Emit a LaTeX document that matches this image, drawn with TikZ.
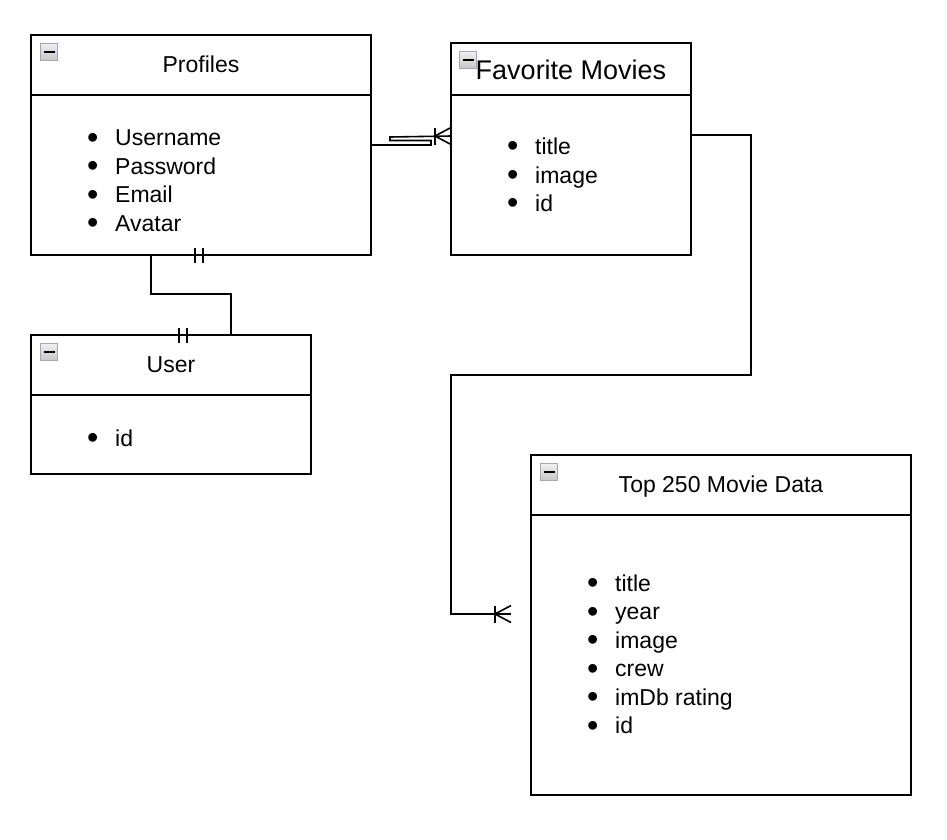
\documentclass[tikz,border=0pt]{standalone}
\usepackage{fontspec}
\setmainfont{Liberation Sans}
\usepackage{tikz}
\usetikzlibrary{positioning}

\tikzset{
    header/.style={rectangle, draw, line width=1.6pt, outer sep=0pt, minimum height=60pt,
        text height=18.6pt, text depth=3.2pt, font=\fontsize{23}{28.5}\selectfont},
    body/.style={rectangle, draw, line width=1.6pt, outer sep=0pt},
    fields/.style={anchor=west, inner sep=0pt, xshift=56pt, font=\fontsize{23}{28.5}\selectfont},
    minus/.style={rectangle, anchor=north west, draw=gray!80!blue!60, line width=1.2pt,
        top color=gray!12, bottom color=gray!45, minimum size=17pt, inner sep=0pt,
        path picture={\draw[line width=2pt, black]
            ([xshift=3pt]path picture bounding box.west) -- ([xshift=-3pt]path picture bounding box.east);}},
    link/.style={line width=1.6pt},
}
\newcommand{\attr}[1]{\makebox[28pt][l]{\smash{\raisebox{-2.2pt}{\scalebox{1.4}{•}}}}#1}
\newcommand{\crowsfoot}[1]{%
    \draw[link] ([xshift=-16pt,yshift=8.5pt]#1) -- ++(0,-17);
    \draw[link] ([yshift=8.5pt]#1) -- ([xshift=-16pt]#1) -- ([yshift=-8.5pt]#1);}

\begin{document}
\begin{tikzpicture}[x=1pt, y=1pt]
    \useasboundingbox (0,0) rectangle (947,-839);

    % Profiles
    \node[header, minimum width=340pt] (profilesHead) at (201,-65) {Profiles};
    \node[body, minimum width=340pt, minimum height=160pt, below=0pt of profilesHead] (profiles) {};
    \node[fields, yshift=-8pt] (profilesFields) at (profiles.west) {\begin{tabular}{@{}l@{}}
        \attr{Username}\\ \attr{Password}\\ \attr{Email}\\ \attr{Avatar}
    \end{tabular}};
    \node[minus] at ([xshift=9pt,yshift=-8pt]profilesHead.north west) {};

    % Favorite Movies
    \node[header, minimum width=240pt, minimum height=52pt, text height=22.5pt, text depth=1.1pt,
        font=\fontsize{27}{32}\selectfont] (favoriteHead) at (571,-69) {Favorite Movies};
    \node[body, minimum width=240pt, minimum height=160pt, below=0pt of favoriteHead] (favorite) {};
    \node[fields, yshift=-2.5pt] (favoriteFields) at (favorite.west) {\begin{tabular}{@{}l@{}}
        \attr{title}\\ \attr{image}\\ \attr{id}
    \end{tabular}};
    \node[minus] at ([xshift=8pt,yshift=-8pt]favoriteHead.north west) {};

    % User
    \node[header, minimum width=280pt] (userHead) at (171,-365) {User};
    \node[body, minimum width=280pt, minimum height=79pt, below=0pt of userHead] (user) {};
    \node[fields, yshift=-6pt] (userFields) at (user.west) {\begin{tabular}{@{}l@{}}
        \attr{id}
    \end{tabular}};
    \node[minus] at ([xshift=9pt,yshift=-8pt]userHead.north west) {};

    % Top 250 Movie Data
    \node[header, minimum width=380pt] (topHead) at (721,-485) {Top 250 Movie Data};
    \node[body, minimum width=380pt, minimum height=280pt, below=0pt of topHead] (top) {};
    \node[fields, yshift=-2pt] (topFields) at (top.west) {\begin{tabular}{@{}l@{}}
        \attr{title}\\ \attr{year}\\ \attr{image}\\ \attr{crew}\\ \attr{imDb rating}\\ \attr{id}
    \end{tabular}};
    \node[minus] at ([xshift=9pt,yshift=-8pt]topHead.north west) {};

    % Profiles -> Favorite Movies
    \coordinate (favIn) at ([yshift=39pt]favorite.west);
    \draw[link] ([yshift=30pt]profiles.east) -- ++(60,0) -- ++(0,4.5) -- ++(-41,0) -- ++(0,3.5) -- (favIn);
    \crowsfoot{favIn}

    % Profiles -> User
    \draw[link] ([xshift=-50pt]profiles.south) -- ++(0,-39) -| ([xshift=60pt]userHead.north);
    \draw[link] ([xshift=-6pt,yshift=7.5pt]profiles.south) -- ++(0,-15);
    \draw[link] ([xshift=2pt,yshift=7.5pt]profiles.south) -- ++(0,-15);
    \draw[link] ([xshift=8pt,yshift=7.5pt]userHead.north) -- ++(0,-15);
    \draw[link] ([xshift=16pt,yshift=7.5pt]userHead.north) -- ++(0,-15);

    % Favorite Movies -> Top 250 Movie Data
    \coordinate (topIn) at ([xshift=-20pt,yshift=41pt]top.west);
    \draw[link] ([yshift=40pt]favorite.east) -- ++(60,0) -- ++(0,-240) -- ++(-300,0) |- (topIn);
    \crowsfoot{topIn}
\end{tikzpicture}
\end{document}
